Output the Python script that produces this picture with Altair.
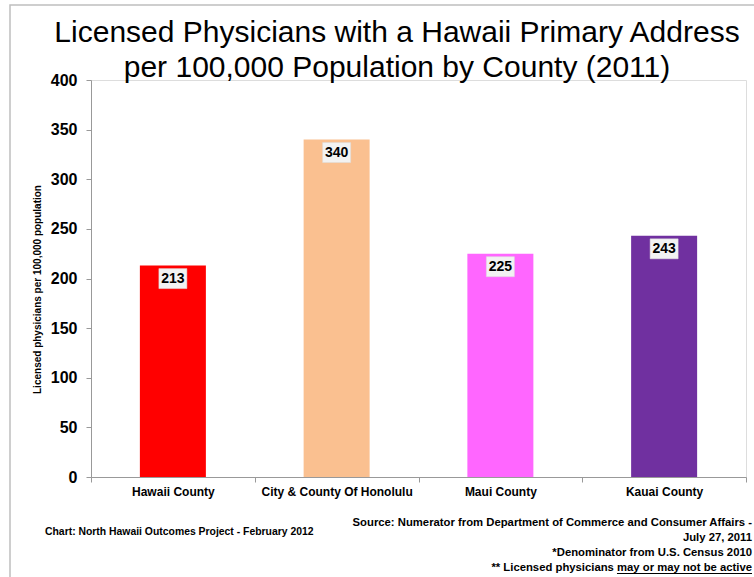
import altair as alt
import pandas as pd

counties = ["Hawaii County", "City & County Of Honolulu", "Maui County", "Kauai County"]
rates = [213, 340, 225, 243]
bar_colors = ["#ff0000", "#fac090", "#ff66ff", "#7030a0"]
y_ticks = [0, 50, 100, 150, 200, 250, 300, 350, 400]
title_lines = ["Licensed Physicians with a Hawaii Primary Address",
               "per 100,000 Population by County (2011)"]
y_title = "Licensed physicians per 100,000 population"
credit = "Chart: North Hawaii Outcomes Project - February 2012"
source_lines = ["Source:  Numerator from Department of Commerce and Consumer Affairs -",
                "July 27, 2011",
                "*Denominator from U.S. Census 2010",
                "** Licensed physicians may or may not be active"]

FONT = "Liberation Sans"
W, H = 655, 397
FOOT = 11.3
RIGHT = 752 - 91  # right edge of source note, relative to plot origin
UL_LEN = 11.949 * FOOT  # width of "may or may not be active" in Arial/Liberation Sans Bold

df = pd.DataFrame({"county": counties, "rate": rates})

x_enc = alt.X("county:N", sort=counties,
              scale=alt.Scale(paddingInner=0, paddingOuter=0),
              axis=alt.Axis(title=None, labelAngle=0, labelFont=FONT, labelFontSize=12,
                            labelFontWeight="bold", labelColor="black", labelPadding=4,
                            tickBand="extent", tickSize=5, tickColor="#999999",
                            domainColor="#999999", labelLimit=300))
y_enc = alt.Y("rate:Q", scale=alt.Scale(domain=[0, 400], nice=False),
              axis=alt.Axis(values=y_ticks, grid=False, title=y_title,
                            titleFont=FONT, titleFontSize=10, titleFontWeight="bold",
                            titleColor="black", titleX=-54, titleY=209, titleAngle=270,
                            titleAlign="center", titleBaseline="middle",
                            labelFont=FONT, labelFontSize=16, labelFontWeight="bold",
                            labelColor="black", labelPadding=9, tickSize=5,
                            tickColor="#999999", domainColor="#999999"))

bars = alt.Chart(df).mark_bar(width=66).encode(
    x=x_enc, y=y_enc,
    color=alt.Color("county:N", scale=alt.Scale(domain=counties, range=bar_colors), legend=None),
)

boxes = alt.Chart(df).mark_point(
    shape="M-1.4,-1H1.4V1H-1.4Z", size=400, filled=True, opacity=1,
    color="#f2f2f2", stroke="#dddddd", strokeWidth=0.5, yOffset=13,
).encode(x=alt.X("county:N", sort=counties), y="rate:Q")

labels = alt.Chart(df).mark_text(
    font=FONT, fontSize=14, fontWeight="bold", color="black",
    baseline="middle", align="center", yOffset=13,
).encode(x=alt.X("county:N", sort=counties), y="rate:Q", text="rate:Q")

one = pd.DataFrame({"k": [0]})

title = alt.Chart(one).mark_text(
    font=FONT, fontSize=30, fontWeight="normal", color="black",
    align="center", baseline="alphabetic", lineHeight=35,
).encode(x=alt.value(306), y=alt.value(-38), text=alt.value(title_lines))

credit_txt = alt.Chart(one).mark_text(
    font=FONT, fontSize=10.4, fontWeight="bold", color="black",
    align="left", baseline="middle",
).encode(x=alt.value(45 - 91), y=alt.value(532 - 80), text=alt.value(credit))

source_txt = alt.Chart(one).mark_text(
    font=FONT, fontSize=FOOT, fontWeight="bold", color="black",
    align="right", baseline="middle", lineHeight=15,
).encode(x=alt.value(RIGHT), y=alt.value(523 - 80), text=alt.value(source_lines))

underline = alt.Chart(one).mark_rule(color="black", strokeWidth=1).encode(
    x=alt.value(RIGHT - UL_LEN), x2=alt.value(RIGHT), y=alt.value(573.5 - 80))

border = alt.Chart(one).mark_rect(
    fill=None, stroke="#bfbfbf", strokeWidth=1.5,
).encode(x=alt.value(-81), x2=alt.value(670), y=alt.value(-75), y2=alt.value(505))

chart = alt.layer(border, bars, boxes, labels, title, credit_txt, source_txt, underline).properties(
    width=W, height=H,
    autosize=alt.AutoSizeParams(type="none"),
    padding={"left": 91, "top": 80, "right": 8, "bottom": 100},
).configure_view(stroke="#bfbfbf", strokeWidth=1).configure(background="white")

chart.save("out.html", embed_options={"renderer": "svg", "actions": False})
